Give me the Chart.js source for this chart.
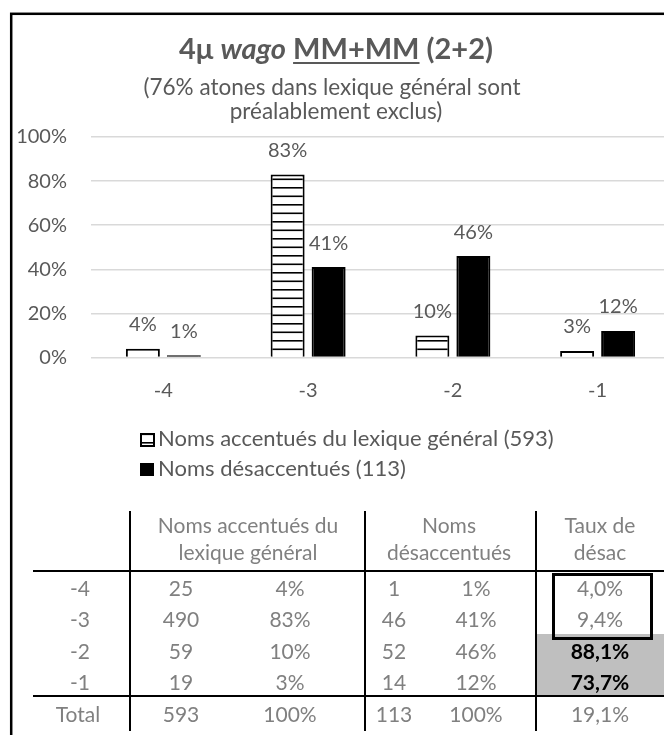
<!DOCTYPE html>
<html>
<head>
<meta charset="utf-8">
<script src="https://cdn.jsdelivr.net/npm/chart.js@4.4.0/dist/chart.umd.min.js"></script>
<style>
  html, body { margin: 0; padding: 0; background: #fff; overflow: hidden; }
  canvas { display: block; }
</style>
</head>
<body>
<canvas id="myChart" width="680" height="735"></canvas>
<script>
const categories = ['-4', '-3', '-2', '-1']
const accentues = [4, 83, 10, 3]        // % noms accentués du lexique général
const desaccentues = [1, 41, 46, 12]    // % noms désaccentués
const yTicks = [0, 20, 40, 60, 80, 100]

// tableau sous le graphique
const nbAccentues = [25, 490, 59, 19]
const nbDesaccentues = [1, 46, 52, 14]
const tauxDesac = [4.0, 9.4, 88.1, 73.7]
const totalAccentues = 593
const totalDesaccentues = 113
const tauxTotal = 19.1

const legendLabels = ['Noms accentués du lexique général (593)', 'Noms désaccentués (113)']

const GRIS = '#595959'
const GRIS_TAB = '#808080'

const ctx = document.getElementById('myChart').getContext('2d')

// motif à rayures horizontales
function hachures() {
    const c = document.createElement('canvas')
    c.width = 8
    c.height = 17
    const g = c.getContext('2d')
    g.fillStyle = '#fff'
    g.fillRect(0, 0, 8, 17)
    g.fillStyle = '#000'
    g.fillRect(0, 0, 8, 1.6)
    g.fillRect(0, 8.5, 8, 1.6)
    return ctx.createPattern(c, 'repeat')
}
const motif = hachures()

const pct = v => v.toFixed(1).replace('.', ',') + '%'

const decor = {
    id: 'decor',
    afterDatasetsDraw(chart) {
        const c = chart.ctx
        c.save()
        c.font = '20px Lato'
        c.fillStyle = GRIS
        c.textAlign = 'center'
        c.textBaseline = 'middle'
        chart.data.datasets.forEach((ds, i) => {
            chart.getDatasetMeta(i).data.forEach((bar, j) => {
                c.fillText(ds.data[j] + '%', bar.x, bar.y - 24)
            })
        })
        c.restore()
    },
    afterDraw(chart) {
        const c = chart.ctx
        c.save()

        // titre
        const parts = [
            { t: '4μ ', f: 'bold 29px Lato' },
            { t: 'wago', f: 'italic bold 29px Lato' },
            { t: ' ', f: 'bold 29px Lato' },
            { t: 'MM+MM', f: 'bold 29px Lato', u: true },
            { t: ' (2+2)', f: 'bold 29px Lato' }
        ]
        let w = 0
        parts.forEach(p => { c.font = p.f; p.w = c.measureText(p.t).width; w += p.w })
        let x = 336 - w / 2
        c.fillStyle = GRIS
        c.textBaseline = 'alphabetic'
        c.textAlign = 'left'
        parts.forEach(p => {
            c.font = p.f
            c.fillText(p.t, x, 59)
            if (p.u) c.fillRect(x, 62, p.w, 2)
            x += p.w
        })

        // sous-titre
        c.font = '22.5px Lato'
        c.textAlign = 'center'
        c.fillText('(76% atones dans lexique général sont', 332, 95)
        c.fillText('préalablement exclus)', 336, 119)

        // légende
        c.font = '22px Lato'
        c.textAlign = 'left'
        c.fillStyle = motif
        c.fillRect(141, 434, 13, 12)
        c.strokeStyle = '#000'
        c.lineWidth = 2
        c.strokeRect(141, 434, 13, 12)
        c.fillStyle = '#000'
        c.fillRect(140, 463, 14, 13)
        c.fillStyle = GRIS
        c.fillText(legendLabels[0], 158, 446)
        c.fillText(legendLabels[1], 158, 476)

        // tableau
        c.fillStyle = '#bfbfbf'
        c.fillRect(536, 634, 140, 62)

        c.fillStyle = '#000'
        c.fillRect(33, 570, 650, 2)
        c.fillRect(33, 695, 650, 2)
        ;[129, 364, 535].forEach(vx => c.fillRect(vx, 511, 2, 220))

        c.lineWidth = 3
        c.strokeRect(553.5, 574.5, 98, 64)

        c.font = '21px Lato'
        c.textAlign = 'center'
        c.fillStyle = GRIS_TAB
        c.fillText('Noms accentués du', 248, 533)
        c.fillText('lexique général', 248, 560)
        c.fillText('Noms', 449, 533)
        c.fillText('désaccentués', 449, 560)
        c.fillText('Taux de', 600, 533)
        c.fillText('désac', 600, 560)

        const rows = [596, 627, 658.5, 690]
        categories.forEach((cat, i) => {
            const y = rows[i]
            c.font = '21px Lato'
            c.fillStyle = GRIS_TAB
            c.fillText(cat, 80, y)
            c.fillText(nbAccentues[i], 181, y)
            c.fillText(accentues[i] + '%', 290, y)
            c.fillText(nbDesaccentues[i], 394, y)
            c.fillText(desaccentues[i] + '%', 476, y)
            if (tauxDesac[i] > 50) {
                c.font = 'bold 21px Lato'
                c.fillStyle = '#000'
            }
            c.fillText(pct(tauxDesac[i]), 600, y)
        })
        c.font = '21px Lato'
        c.fillStyle = GRIS_TAB
        c.fillText('Total', 78, 722)
        c.fillText(totalAccentues, 181, 722)
        c.fillText('100%', 290, 722)
        c.fillText(totalDesaccentues, 394, 722)
        c.fillText('100%', 476, 722)
        c.fillText(pct(tauxTotal), 600, 722)

        // cadre
        c.strokeStyle = '#000'
        c.lineWidth = 2.5
        c.strokeRect(11.2, 13.8, 700, 800)

        c.restore()
    }
}

const myChart = new Chart(ctx, {
    type: 'bar',
    data: {
        labels: categories,
        datasets: [{
            label: legendLabels[0],
            data: accentues,
            backgroundColor: motif,
            borderColor: '#000',
            borderWidth: 2,
            categoryPercentage: 0.5665,
            barPercentage: 0.829
        }, {
            label: legendLabels[1],
            data: desaccentues,
            backgroundColor: '#000',
            borderColor: '#000',
            borderWidth: 2,
            categoryPercentage: 0.5665,
            barPercentage: 0.829
        }]
    },
    options: {
        responsive: false,
        animation: false,
        layout: {
            padding: { left: 11, right: 10, top: 137, bottom: 327.5 }
        },
        scales: {
            x: {
                grid: { display: false, drawTicks: false },
                border: { display: false },
                ticks: { color: GRIS, font: { family: 'Lato', size: 20 }, padding: 21 },
                afterFit(axis) { axis.height = 50 }
            },
            y: {
                min: 0,
                max: 100,
                afterBuildTicks(axis) { axis.ticks = yTicks.map(v => ({ value: v })) },
                grid: { color: '#d9d9d9', lineWidth: 1.5, drawTicks: false },
                border: { display: false },
                ticks: {
                    color: GRIS,
                    font: { family: 'Lato', size: 20 },
                    padding: 24,
                    callback: v => v + '%'
                },
                afterFit(axis) { axis.width = 80 }
            }
        },
        plugins: {
            legend: { display: false },
            title: { display: false },
            tooltip: { enabled: false }
        }
    },
    plugins: [decor]
});
</script>
</body>
</html>
